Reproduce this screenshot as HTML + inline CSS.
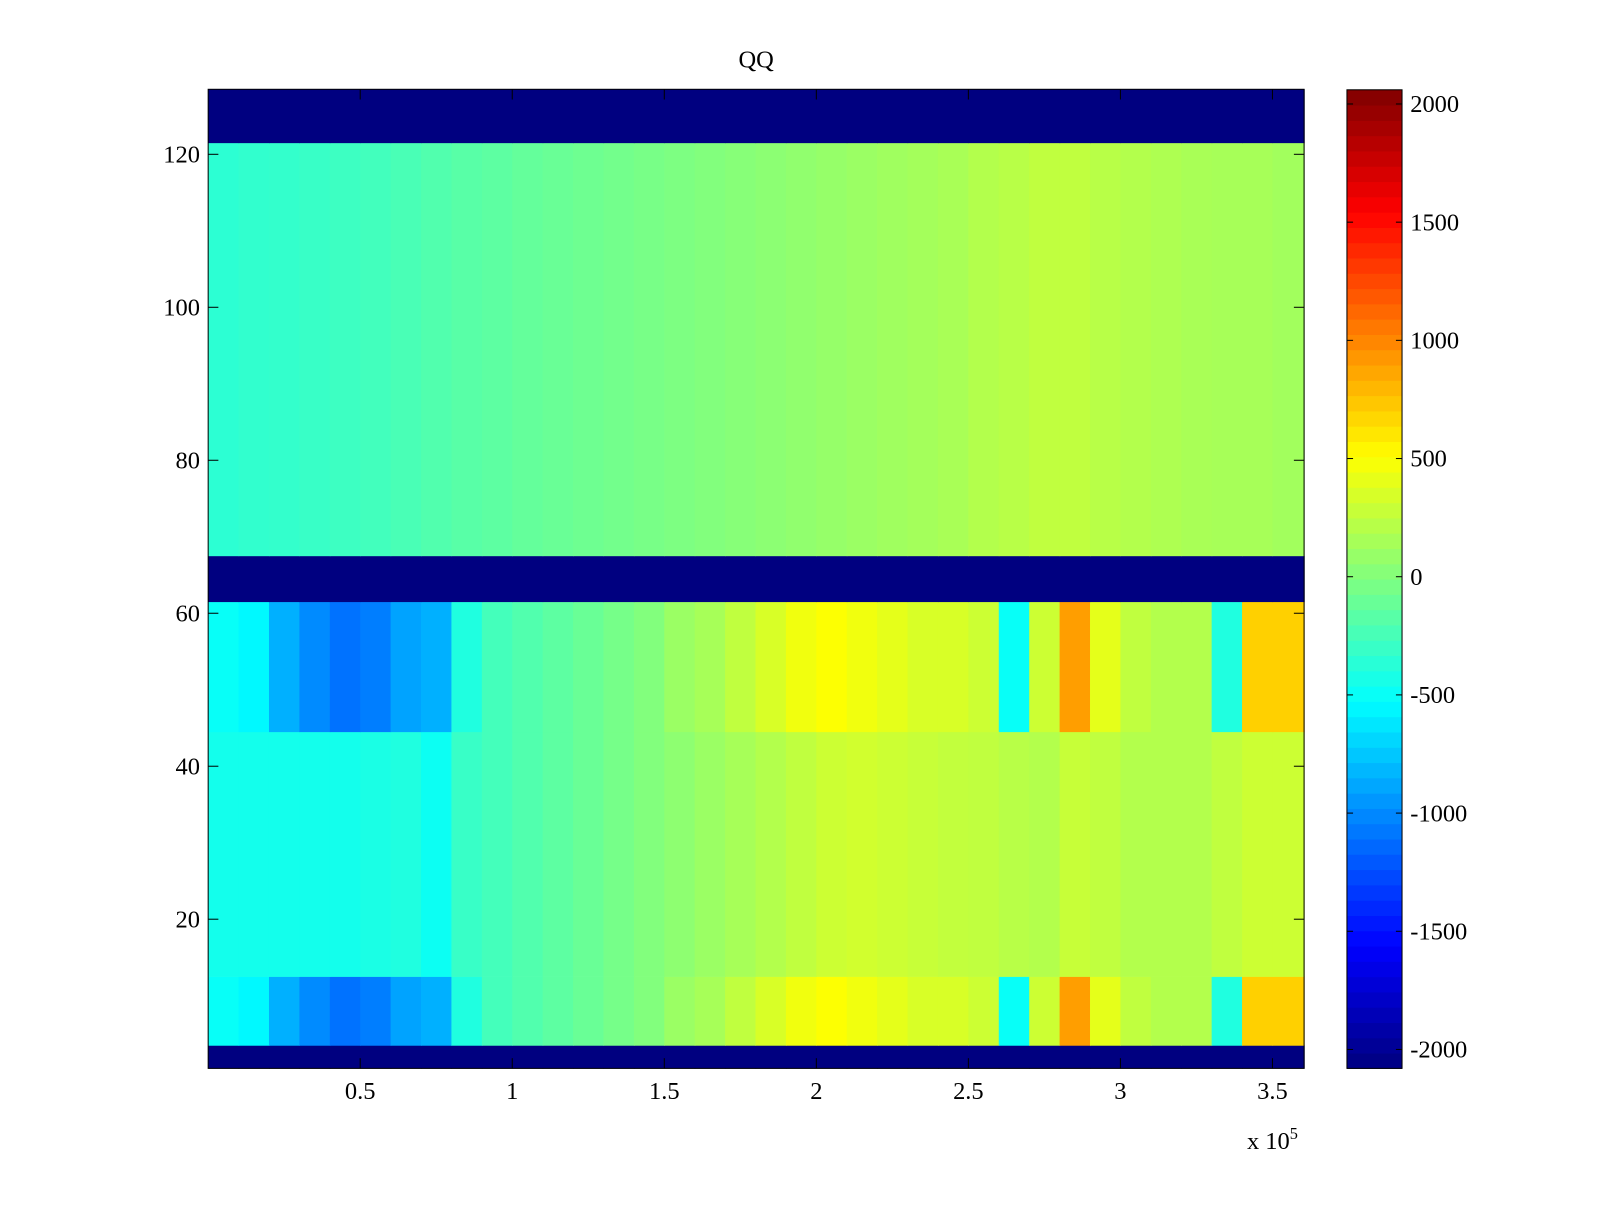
<!DOCTYPE html>
<html><head><meta charset="utf-8"><style>
body{margin:0;background:#fff;}
svg text{font-family:"Liberation Serif",serif;font-size:24px;fill:#000;}
</style></head><body>
<svg id="chart" width="1600" height="1200" viewBox="0 0 1568 1176" xmlns="http://www.w3.org/2000/svg">
<rect width="1568" height="1176" fill="#fff"/>
<g id="cells"></g>
<g id="cbar"></g>
<g id="axes"></g>
<text x="741" y="66" text-anchor="middle">QQ</text>
<text x="1222" y="1126">x 10<tspan dy="-10" font-size="16">5</tspan></text>
</svg>
<script>
// column bins of 1e4 each (0..3.6e5)
const colStarts = [0,1,2,3,4,5,6,7,8,9,10,11,12,13,14,15,16,17,18,19,20,21,22,23,24,25,26,27,28,29,30,31,32,33,34,35];
// row groups [yStart, yEnd] (inclusive rows) and series key
const rowGroups = [[1,3,'pad'],[4,12,'hot'],[13,44,'mid'],[45,61,'hot'],[62,67,'pad'],[68,121,'top'],[122,128,'pad']];
const topVals = [-350,-330,-320,-300,-280,-260,-230,-200,-170,-150,-120,-100,-80,-60,-40,-20,0,20,40,60,80,100,120,140,160,200,220,250,250,220,200,180,160,150,150,130];
const midVals = [-450,-450,-450,-450,-450,-420,-400,-480,-300,-250,-200,-150,-100,-50,0,50,100,150,200,250,300,320,300,280,260,250,220,200,280,250,200,200,200,250,300,300];
const hotVals = [-500,-550,-850,-1000,-1100,-1050,-900,-850,-400,-250,-200,-150,-100,-50,0,100,150,250,350,450,500,450,400,350,350,300,-500,300,900,400,250,200,200,-400,700,700];
const padVal = -2080;
const xTicks = [0.5,1,1.5,2,2.5,3,3.5];
const yTicks = [20,40,60,80,100,120];
const cTicks = [2000,1500,1000,500,0,-500,-1000,-1500,-2000];

const L=204,R=1278,T=87.5,B=1047;
const xScale = v => L + v/3.604*(R-L);          // v in 1e5
const yScale = v => T + (128.5 - v)/128*(B-T);
const cMin=-2080,cMax=2060;
const cScale = v => 88 + (cMax - v)/(cMax-cMin)*(1047-88);
function jet(v){
  let t=(v-cMin)/(cMax-cMin); t=Math.max(0,Math.min(1,t));
  const c=x=>Math.round(255*Math.max(0,Math.min(1,x)));
  return `rgb(${c(1.5-Math.abs(4*t-3))},${c(1.5-Math.abs(4*t-2))},${c(1.5-Math.abs(4*t-1))})`;
}
const NS='http://www.w3.org/2000/svg';
function mk(tag,attrs,parent){const e=document.createElementNS(NS,tag);for(const k in attrs)e.setAttribute(k,attrs[k]);parent.appendChild(e);return e;}
const cells=document.getElementById('cells');
const series={top:topVals,mid:midVals,hot:hotVals};
rowGroups.forEach(g=>{
  const y0=yScale(g[1]+0.5), y1=yScale(g[0]-0.5);
  colStarts.forEach((c,i)=>{
    const x0=xScale(c/10), x1=i===colStarts.length-1?R:xScale((c+1)/10);
    const v = g[2]==='pad'?padVal:series[g[2]][i];
    const r=mk('rect',{x:x0,y:y0,width:x1-x0+0.6,height:y1-y0+0.3,fill:jet(v)},cells);
    
    
  });
});
// colorbar
const cb=document.getElementById('cbar');
for(let i=0;i<64;i++){
  const v0=cMin+(cMax-cMin)*i/64, v1=cMin+(cMax-cMin)*(i+1)/64;
  const r=mk('rect',{x:1320,y:cScale(v1),width:54,height:cScale(v0)-cScale(v1)+0.5,fill:jet((v0+v1)/2)},cb);
  
  
}
mk('rect',{x:1320,y:88,width:54,height:959,fill:'none',stroke:'#000','stroke-width':1},cb);
cTicks.forEach(v=>{
  const y=cScale(v);
  mk('line',{x1:1320,x2:1326,y1:y,y2:y,stroke:'#000'},cb);
  mk('line',{x1:1368,x2:1374,y1:y,y2:y,stroke:'#000'},cb);
  const t=mk('text',{x:1382,y:y+8},cb);t.textContent=v;
  
  
});
// axes
const ax=document.getElementById('axes');
mk('rect',{x:L,y:T,width:R-L,height:B-T,fill:'none',stroke:'#000','stroke-width':1},ax);
xTicks.forEach(v=>{
  const x=xScale(v);
  mk('line',{x1:x,x2:x,y1:B,y2:B-10,stroke:'#000'},ax);
  mk('line',{x1:x,x2:x,y1:T,y2:T+10,stroke:'#000'},ax);
  const t=mk('text',{x:x,y:B+30,'text-anchor':'middle'},ax);t.textContent=v;
  
  
});
yTicks.forEach(v=>{
  const y=yScale(v);
  mk('line',{x1:L,x2:L+10,y1:y,y2:y,stroke:'#000'},ax);
  mk('line',{x1:R,x2:R-10,y1:y,y2:y,stroke:'#000'},ax);
  const t=mk('text',{x:L-8,y:y+8,'text-anchor':'end'},ax);t.textContent=v;
  
  
});
</script>
</body></html>
